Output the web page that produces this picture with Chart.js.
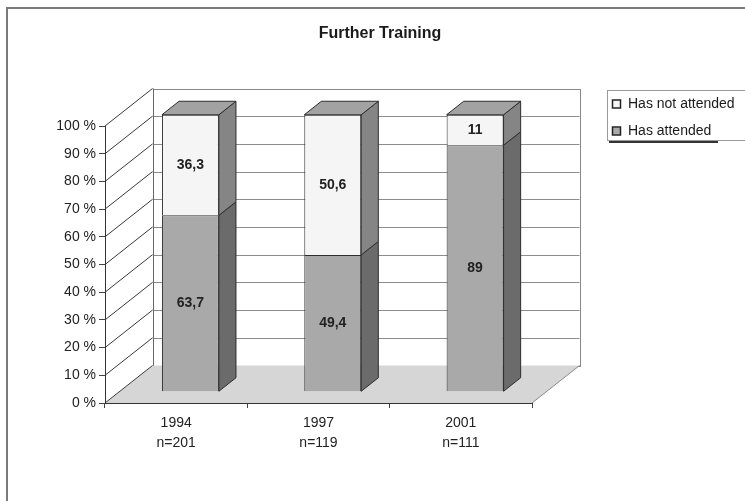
<!DOCTYPE html>
<html>
<head>
<meta charset="utf-8">
<script src="https://cdn.jsdelivr.net/npm/chart.js@4/dist/chart.umd.min.js"></script>
<style>
  html, body { margin: 0; padding: 0; background: #fff; }
  #wrap { width: 745px; height: 501px; }
  canvas { display: block; }
</style>
</head>
<body>
<div id="wrap"><canvas id="c" width="745" height="501"></canvas></div>
<script>
// ---- data ----
const chartTitle = "Further Training";
const categories = [["1994", "n=201"], ["1997", "n=119"], ["2001", "n=111"]];
const seriesNames = ["Has attended", "Has not attended"];
const hasAttended = [63.7, 49.4, 89];
const hasNotAttended = [36.3, 50.6, 11];
const yTickSuffix = " %";

// ---- style ----
const FONT = "'Liberation Sans', Arial, sans-serif";
const frontColors = ["#a9a9a9", "#f5f5f5"];
const sideColors = ["#6b6b6b", "#858585"];
const topColor = "#a2a2a2";
const DX = 47.5, DY = 37.5;          // depth of the plot box
const BAR_FRONT = 0.30, BAR_DEPTH = 0.36;

const fmt = v => String(v).replace('.', ',');

const threeD = {
  id: 'threeD',
  beforeDraw(chart) {
    const ctx = chart.ctx, ca = chart.chartArea;
    const ys = chart.scales.y;
    ctx.save();
    ctx.fillStyle = '#fff';
    ctx.fillRect(0, 0, chart.width, chart.height);
    // outer frame
    ctx.strokeStyle = '#7a7a7a';
    ctx.lineWidth = 2;
    ctx.strokeRect(7, 8, 780, 540);

    const y0 = ys.getPixelForValue(0), y100 = ys.getPixelForValue(100);
    const L = ca.left, R = ca.right;
    // back wall
    ctx.fillStyle = '#fff';
    ctx.fillRect(L + DX, y100 - DY, R - L, y0 - y100);
    ctx.lineWidth = 1;
    ctx.strokeStyle = '#8c8c8c';
    const ticks = ys.ticks.map(t => t.value);
    ticks.forEach(v => {
      const yy = Math.round(ys.getPixelForValue(v) - DY) + 0.5;
      ctx.beginPath(); ctx.moveTo(L + DX, yy); ctx.lineTo(R + DX, yy); ctx.stroke();
    });
    ctx.strokeStyle = '#888';
    ctx.strokeRect(Math.round(L + DX) + 0.5, Math.round(y100 - DY) + 0.5, R - L, y0 - y100);
    // floor
    ctx.fillStyle = '#d6d6d6';
    ctx.beginPath();
    ctx.moveTo(L, y0); ctx.lineTo(R, y0); ctx.lineTo(R + DX, y0 - DY); ctx.lineTo(L + DX, y0 - DY);
    ctx.closePath(); ctx.fill();
    ctx.strokeStyle = '#8a8a8a';
    ctx.beginPath(); ctx.moveTo(R, y0); ctx.lineTo(R + DX, y0 - DY); ctx.stroke();
    // left wall
    ctx.fillStyle = '#fff';
    ctx.beginPath();
    ctx.moveTo(L, y0); ctx.lineTo(L, y100); ctx.lineTo(L + DX, y100 - DY); ctx.lineTo(L + DX, y0 - DY);
    ctx.closePath(); ctx.fill();
    ctx.strokeStyle = '#3a3a3a';
    ticks.forEach(v => {
      const yy = ys.getPixelForValue(v);
      ctx.beginPath(); ctx.moveTo(L, yy); ctx.lineTo(L + DX, yy - DY); ctx.stroke();
    });
    ctx.strokeStyle = '#666';
    ctx.beginPath(); ctx.moveTo(Math.round(L + DX) + 0.5, y100 - DY); ctx.lineTo(Math.round(L + DX) + 0.5, y0 - DY); ctx.stroke();

    // title
    ctx.fillStyle = '#1a1a1a';
    ctx.font = 'bold 16px ' + FONT;
    ctx.textAlign = 'center';
    ctx.textBaseline = 'alphabetic';
    ctx.fillText(chartTitle, 380, 38);

    // legend
    ctx.strokeStyle = '#9a9a9a';
    ctx.lineWidth = 1;
    ctx.strokeRect(607.5, 90.5, 160, 50);
    ctx.strokeStyle = '#333';
    ctx.lineWidth = 2;
    ctx.beginPath(); ctx.moveTo(609, 142); ctx.lineTo(718, 142); ctx.stroke();
    ctx.lineWidth = 1;
    ctx.font = '14px ' + FONT;
    ctx.textAlign = 'left';
    ctx.textBaseline = 'middle';
    const order = [1, 0];
    order.forEach((di, k) => {
      const cy = 104 + k * 27;
      ctx.fillStyle = frontColors[di];
      ctx.fillRect(613, cy - 3.5, 7, 7);
      ctx.strokeStyle = '#222';
      ctx.lineWidth = 1.5;
      ctx.strokeRect(612.5, cy - 4, 8, 8);
      ctx.lineWidth = 1;
      ctx.fillStyle = '#1a1a1a';
      ctx.fillText(chart.data.datasets[di].label, 628, cy + 0.5);
    });
    ctx.restore();
  },
  beforeDatasetsDraw(chart) {
    const ctx = chart.ctx;
    ctx.save();
    ctx.translate(BAR_FRONT * DX, -BAR_FRONT * DY);
  },
  afterDatasetsDraw(chart) {
    const ctx = chart.ctx;
    ctx.restore();
    ctx.save();
    const ox = BAR_FRONT * DX, oy = -BAR_FRONT * DY;
    const bdx = BAR_DEPTH * DX, bdy = BAR_DEPTH * DY;
    const n = chart.data.datasets.length;
    chart.data.datasets.forEach((ds, di) => {
      const meta = chart.getDatasetMeta(di);
      meta.data.forEach((bar, j) => {
        const p = bar.getProps(['x', 'y', 'base', 'width'], true);
        const Lx = p.x - p.width / 2 + ox, Rx = p.x + p.width / 2 + ox;
        const top = Math.min(p.y, p.base) + oy, bot = Math.max(p.y, p.base) + oy;
        // side face
        ctx.fillStyle = sideColors[di];
        ctx.strokeStyle = '#2e2e2e';
        ctx.lineWidth = 1;
        ctx.beginPath();
        ctx.moveTo(Rx, bot); ctx.lineTo(Rx, top); ctx.lineTo(Rx + bdx, top - bdy); ctx.lineTo(Rx + bdx, bot - bdy);
        ctx.closePath(); ctx.fill(); ctx.stroke();
        if (di === n - 1) {
          ctx.fillStyle = topColor;
          ctx.beginPath();
          ctx.moveTo(Lx, top); ctx.lineTo(Lx + bdx, top - bdy); ctx.lineTo(Rx + bdx, top - bdy); ctx.lineTo(Rx, top);
          ctx.closePath(); ctx.fill(); ctx.stroke();
        }
        // value label
        ctx.fillStyle = '#222';
        ctx.font = 'bold 14px ' + FONT;
        ctx.textAlign = 'center';
        ctx.textBaseline = 'middle';
        ctx.fillText(fmt(ds.data[j]), (Lx + Rx) / 2, (top + bot) / 2);
      });
    });
    ctx.restore();
  }
};

new Chart(document.getElementById('c'), {
  type: 'bar',
  data: {
    labels: categories,
    datasets: [
      { label: seriesNames[0], data: hasAttended, backgroundColor: frontColors[0], borderColor: '#2e2e2e', borderWidth: 1 },
      { label: seriesNames[1], data: hasNotAttended, backgroundColor: frontColors[1], borderColor: '#2e2e2e', borderWidth: 1 }
    ]
  },
  options: {
    responsive: false,
    animation: false,
    devicePixelRatio: 1,
    layout: { padding: { left: 0, right: 213, top: 126, bottom: 38 } },
    plugins: { legend: { display: false }, title: { display: false }, tooltip: { enabled: false } },
    datasets: { bar: { categoryPercentage: 1, barPercentage: 0.4 } },
    scales: {
      x: {
        stacked: true,
        afterFit: s => { s.height = 60; },
        grid: { display: true, drawOnChartArea: false, drawTicks: true, tickLength: 5, color: '#444', offset: true },
        border: { display: true, color: '#333', width: 1 },
        ticks: { color: '#222', font: { family: FONT, size: 14, lineHeight: 1.45 }, padding: 5, maxRotation: 0, autoSkip: false }
      },
      y: {
        stacked: true,
        min: 0, max: 100,
        afterFit: s => { s.width = 105; },
        grid: { display: true, drawOnChartArea: false, drawTicks: true, tickLength: 6, color: '#444' },
        border: { display: true, color: '#333', width: 1 },
        ticks: { stepSize: 10, color: '#222', font: { family: FONT, size: 14 }, padding: 3,
                 callback: v => v + yTickSuffix }
      }
    }
  },
  plugins: [threeD]
});
</script>
</body>
</html>
